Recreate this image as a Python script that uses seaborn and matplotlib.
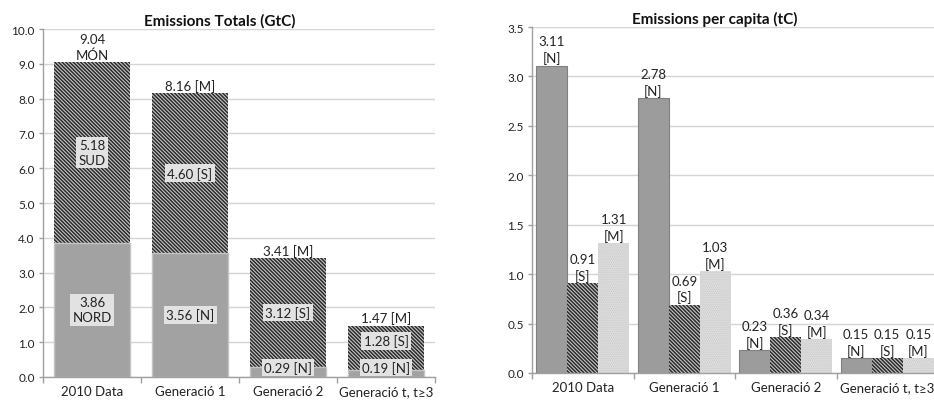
import matplotlib
matplotlib.use("Agg")
import matplotlib.pyplot as plt
import numpy as np
import pandas as pd
import seaborn as sns
from matplotlib.ticker import FormatStrFormatter, MultipleLocator, FixedLocator

# ---------------- data ----------------
categories = ["2010 Data", "Generació 1", "Generació 2", "Generació t, t≥3"]
total_north = [3.86, 3.56, 0.29, 0.19]
total_south = [5.18, 4.60, 3.12, 1.28]
total_world = [9.04, 8.16, 3.41, 1.47]
pc_north = [3.11, 2.78, 0.23, 0.15]
pc_south = [0.91, 0.69, 0.36, 0.15]
pc_world = [1.31, 1.03, 0.34, 0.15]
series_tags = ["N", "S", "M"]
first_names = ["NORD", "SUD", "MÓN"]
title_left = "Emissions Totals (GtC)"
title_right = "Emissions per capita (tC)"

# ---------------- style ----------------
sns.set_theme(style="white")
plt.rcParams["font.family"] = ["Lato", "DejaVu Sans"]
plt.rcParams["hatch.linewidth"] = 1.1
TXT = "#222222"
GRID = "#d4d4d4"
SPINE = "#a0a0a0"
N_COL = "#a2a2a2"
S_BG = "#c8c8c8"
S_HATCH = "#2a2a2a"
M_BG = "#f2f2f2"
M_HATCH = "#bdbdbd"
BOX = "#e2e2e2"
FS = 9.5
HATCH_S = "\\" * 9

fig = plt.figure(figsize=(9.34, 4.02), dpi=100)
axL = fig.add_axes([43 / 934, 1 - 378 / 402, 392 / 934, 348 / 402])
axR = fig.add_axes([532 / 934, 1 - 374 / 402, 406 / 934, 346 / 402])


def style_axes(ax, ymax, step, title):
    ax.set_xlim(-0.5, len(categories) - 0.5)
    ax.set_ylim(0, ymax)
    ax.yaxis.set_major_locator(MultipleLocator(step))
    ax.yaxis.set_major_formatter(FormatStrFormatter("%.1f"))
    ax.grid(axis="y", color=GRID, linewidth=1.0)
    ax.grid(axis="x", visible=False)
    ax.set_axisbelow(True)
    for s in ["top", "right"]:
        ax.spines[s].set_visible(False)
    for s in ["left", "bottom"]:
        ax.spines[s].set_color(SPINE)
        ax.spines[s].set_linewidth(1.0)
    ax.xaxis.set_minor_locator(FixedLocator(np.arange(-0.5, len(categories), 1.0)))
    ax.tick_params(axis="x", which="major", length=0, pad=6, labelsize=FS, colors=TXT)
    ax.tick_params(axis="x", which="minor", length=4, width=1, color=SPINE, bottom=True)
    ax.tick_params(axis="y", which="major", length=3, width=1, color=SPINE, left=True,
                   labelsize=8.5, colors=TXT, pad=3)
    ax.set_xlabel("")
    ax.set_ylabel("")
    ax.set_title(title, fontsize=11, fontweight="bold", color="#111111", x=0.45, pad=3)


# ---------------- left: stacked totals ----------------
sns.barplot(x=categories, y=total_world, ax=axL, color=S_BG, width=0.78, saturation=1)
sns.barplot(x=categories, y=total_north, ax=axL, color=N_COL, width=0.78, saturation=1)
for p in axL.containers[0]:
    p.set_facecolor(S_BG)
    p.set_hatch(HATCH_S)
    p.set_edgecolor(S_HATCH)
    p.set_linewidth(0)
for p in axL.containers[1]:
    p.set_facecolor(N_COL)
    p.set_edgecolor("#c4c4c4")
    p.set_linewidth(1.0)
style_axes(axL, 10.0, 1.0, title_left)

box = dict(boxstyle="square,pad=0.18", fc=BOX, ec="none")
for i, (n, s, m) in enumerate(zip(total_north, total_south, total_world)):
    if i == 0:
        tn = f"{n:.2f}\n{first_names[0]}"
        ts = f"{s:.2f}\n{first_names[1]}"
        tm = f"{m:.2f}\n{first_names[2]}"
    else:
        tn = f"{n:.2f} [{series_tags[0]}]"
        ts = f"{s:.2f} [{series_tags[1]}]"
        tm = f"{m:.2f} [{series_tags[2]}]"
    yn = max(n / 2, 0.27)
    ys = max(n + s / 2, yn + 0.77)
    axL.text(i, yn, tn, ha="center", va="center", fontsize=FS, color=TXT,
             bbox=box, linespacing=1.3)
    axL.text(i, ys, ts, ha="center", va="center", fontsize=FS, color=TXT,
             bbox=box, linespacing=1.3)
    axL.annotate(tm, (i, m), xytext=(0, 1), textcoords="offset points",
                 ha="center", va="bottom", fontsize=FS, color=TXT, linespacing=1.3)

# ---------------- right: per capita grouped ----------------
df = pd.DataFrame({
    "cat": categories * 3,
    "series": sum([[t] * len(categories) for t in series_tags], []),
    "val": pc_north + pc_south + pc_world,
})
sns.barplot(data=df, x="cat", y="val", hue="series", hue_order=series_tags,
            palette=[N_COL, S_BG, M_BG], width=0.92, saturation=1, ax=axR, legend=False)
for p in axR.containers[0]:
    p.set_facecolor("#9c9c9c")
    p.set_edgecolor("#808080")
    p.set_linewidth(0.8)
for p in axR.containers[1]:
    p.set_facecolor(S_BG)
    p.set_hatch(HATCH_S)
    p.set_edgecolor(S_HATCH)
    p.set_linewidth(0)
for p in axR.containers[2]:
    p.set_facecolor(M_BG)
    p.set_hatch("........")
    p.set_edgecolor(M_HATCH)
    p.set_linewidth(0)
style_axes(axR, 3.5, 0.5, title_right)

for cont, tag in zip(axR.containers, series_tags):
    for p in cont:
        x = p.get_x() + p.get_width() / 2
        h = p.get_height()
        axR.annotate(f"{h:.2f}\n[{tag}]", (x, h), xytext=(0, 1), textcoords="offset points",
                     ha="center", va="bottom", fontsize=FS, color=TXT, linespacing=1.35)

fig.savefig("out.png", dpi=100)
